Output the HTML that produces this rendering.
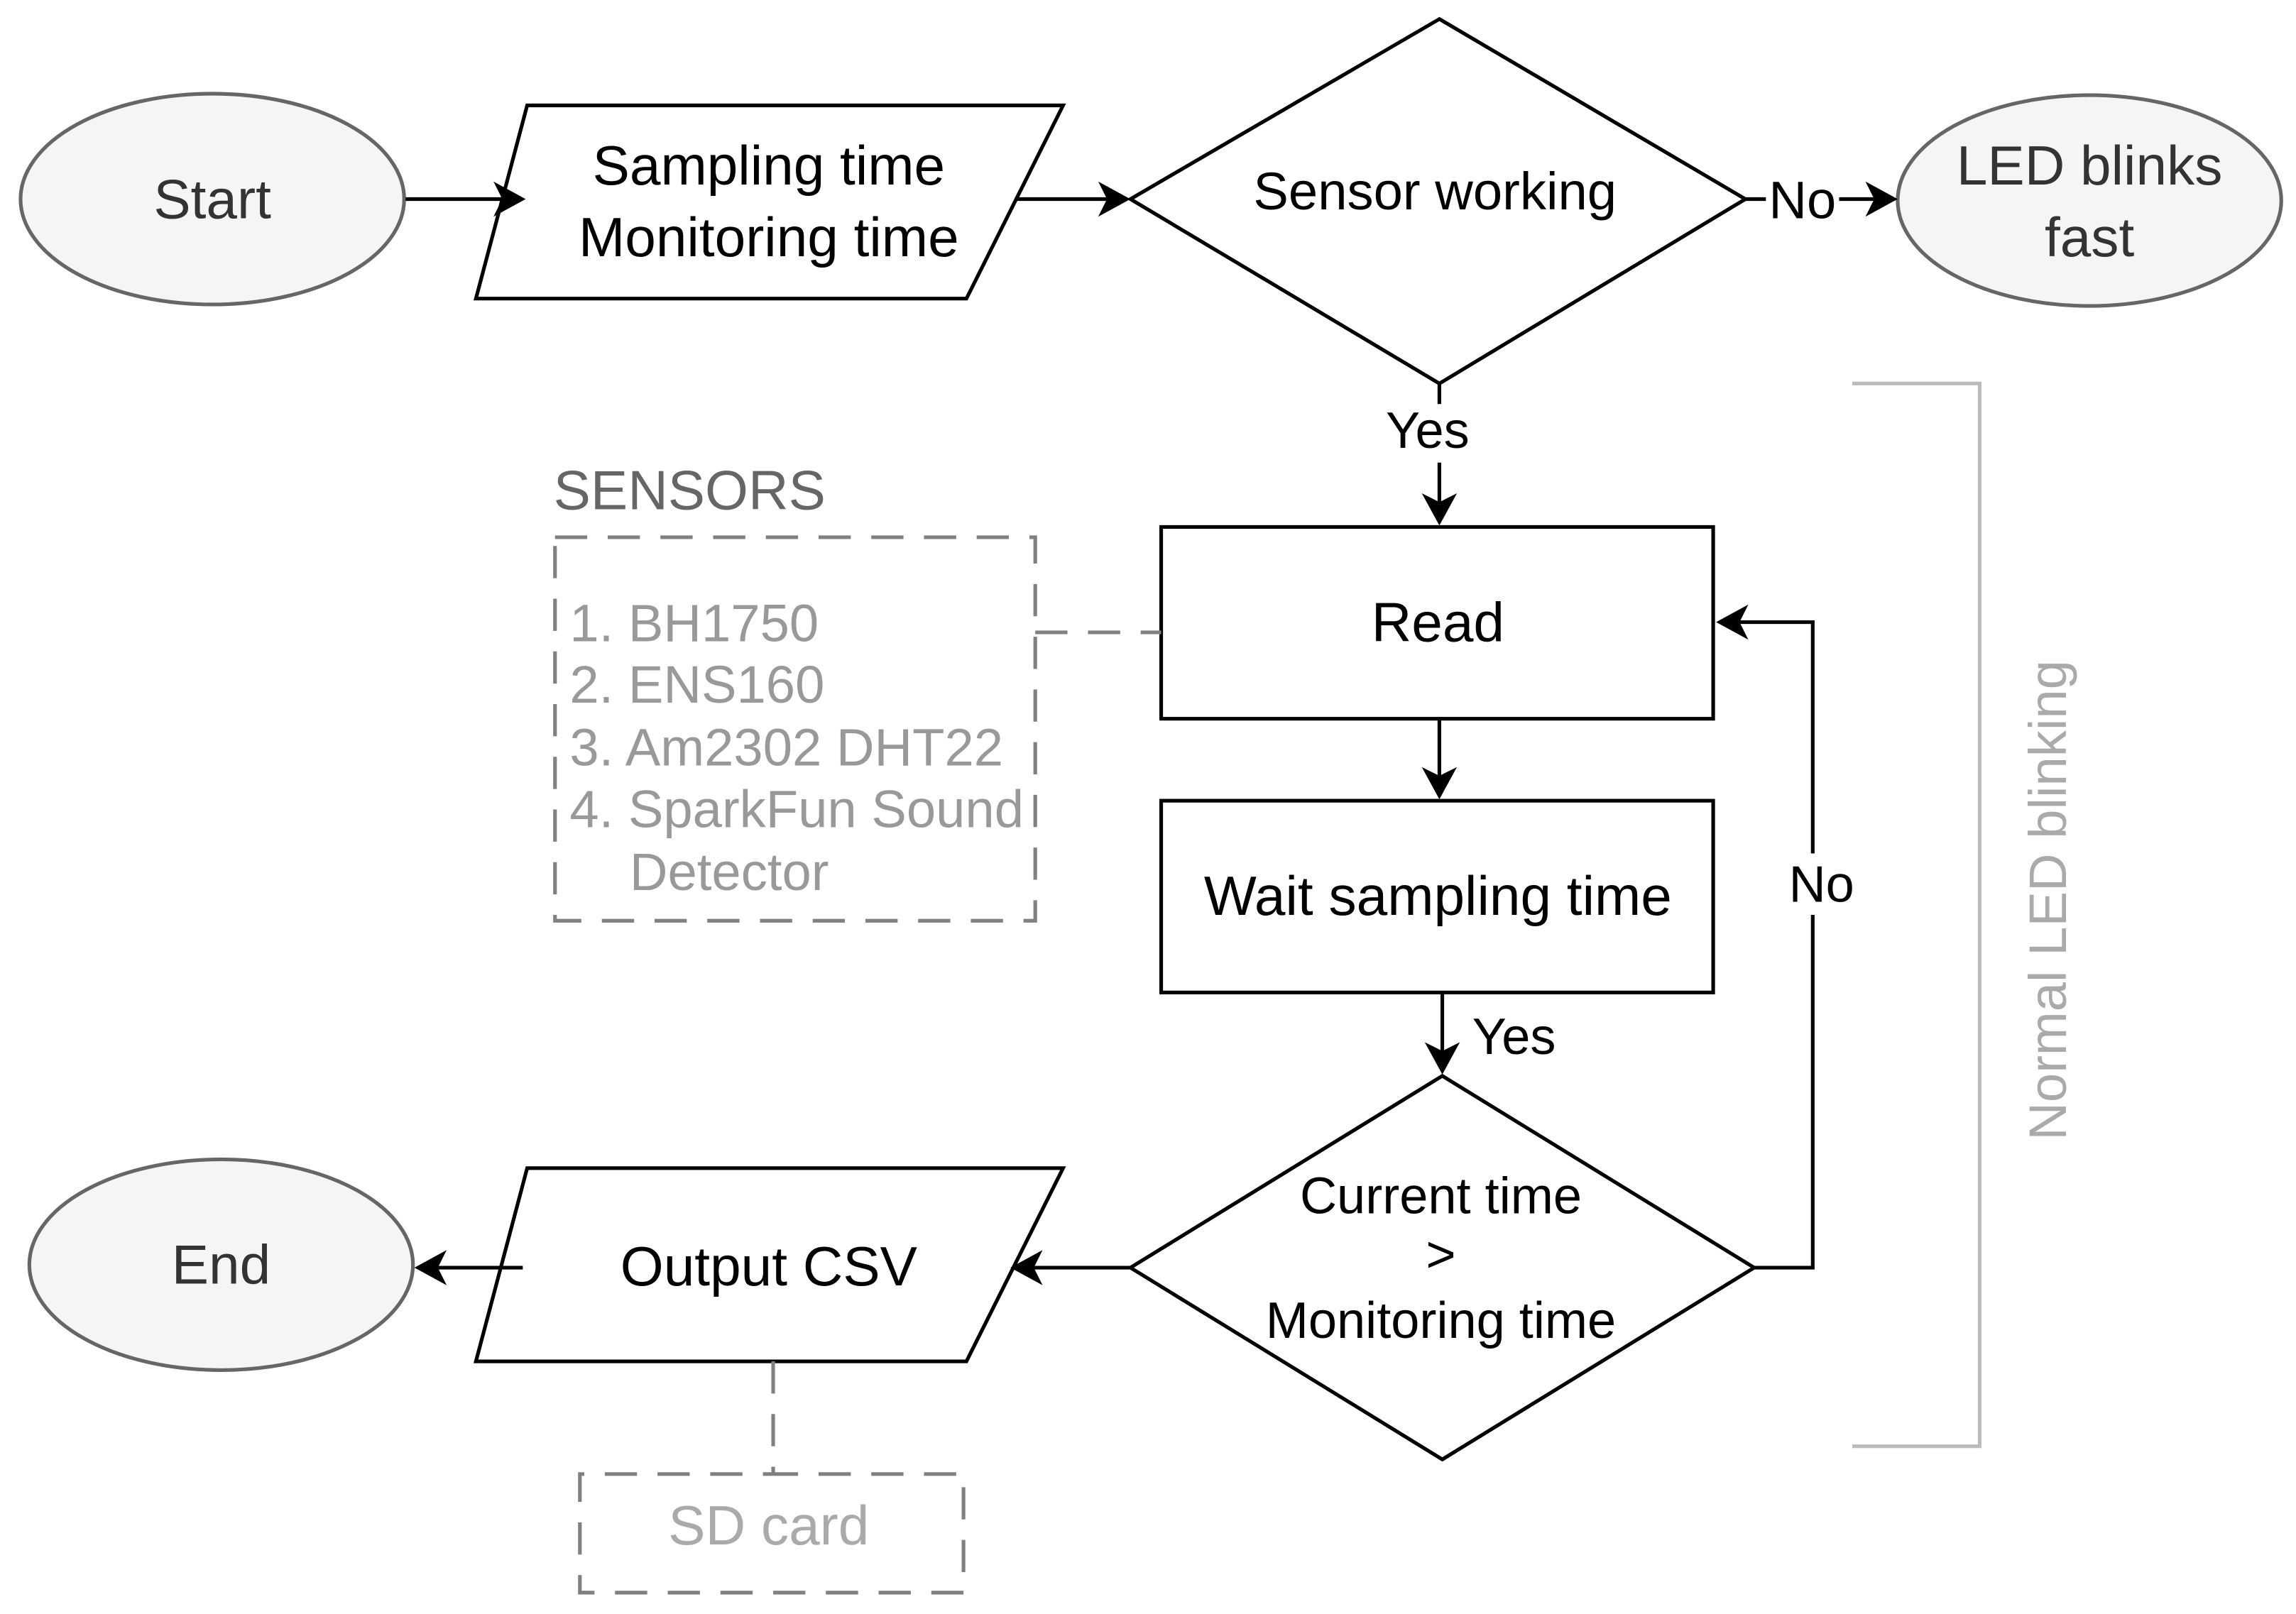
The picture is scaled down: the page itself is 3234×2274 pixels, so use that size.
<!DOCTYPE html>
<html><head><meta charset="utf-8"><style>html,body{margin:0;padding:0;background:#fff}svg{display:block}</style></head>
<body>
<svg width="3234" height="2274" viewBox="0 0 1568 1102.6" xmlns="http://www.w3.org/2000/svg" font-family="'Liberation Sans', Arial, sans-serif">
<rect width="1568" height="1103" fill="#fff"/>
<g fill="none" stroke-width="2.5">
<ellipse cx="145" cy="136" rx="131" ry="72" fill="#f5f5f5" stroke="#666"/>
<ellipse cx="1427" cy="137" rx="131" ry="72" fill="#f5f5f5" stroke="#666"/>
<ellipse cx="151" cy="864" rx="131" ry="72" fill="#f5f5f5" stroke="#666"/>
<polygon points="360,72 726,72 660,204 325,204" fill="#fff" stroke="#000"/>
<polygon points="360,798 726,798 660,930 325,930" fill="#fff" stroke="#000"/>
<polygon points="983,13 1192,136 983,262 772,136" fill="#fff" stroke="#000"/>
<polygon points="985,735 1198,866 985,997 772,866" fill="#fff" stroke="#000"/>
<rect x="793" y="360" width="377" height="131" fill="#fff" stroke="#000"/>
<rect x="793" y="547" width="377" height="131" fill="#fff" stroke="#000"/>
<g stroke="#000">
<line x1="277" y1="136" x2="345" y2="136"/>
<line x1="693" y1="136" x2="758" y2="136"/>
<line x1="1192" y1="136" x2="1206" y2="136"/>
<line x1="1256" y1="136" x2="1282" y2="136"/>
<line x1="983" y1="262" x2="983" y2="276"/>
<line x1="983" y1="316" x2="983" y2="346"/>
<line x1="983" y1="491" x2="983" y2="533"/>
<line x1="985" y1="678" x2="985" y2="721"/>
<polyline points="1198,866 1238,866 1238,625"/>
<polyline points="1238,583 1238,425 1186,425"/>
<line x1="772" y1="866" x2="704" y2="866"/>
<line x1="357" y1="866" x2="297" y2="866"/>
</g>
<g stroke="#808080" stroke-dasharray="22,14">
<rect x="379" y="367" width="328" height="262"/>
<line x1="707" y1="432" x2="793" y2="432"/>
<polyline points="528,930 528,1007 658,1007 658,1088 396,1088 396,1007 528,1007"/>
</g>
<polyline points="1265,262 1352,262 1352,988 1265,988" stroke="#bbb"/>
</g>
<g fill="#000">
<path d="M359,136 L337,124 L343,136 L337,148 Z"/>
<path d="M772,136 L750,124 L756,136 L750,148 Z"/>
<path d="M1296,136 L1274,124 L1280,136 L1274,148 Z"/>
<path d="M983,359 L971,337 L983,343 L995,337 Z"/>
<path d="M983,546 L971,524 L983,530 L995,524 Z"/>
<path d="M985,734 L973,712 L985,718 L997,712 Z"/>
<path d="M1172,425 L1194,413 L1188,425 L1194,437 Z"/>
<path d="M690,866 L712,854 L706,866 L712,878 Z"/>
<path d="M283,866 L305,854 L299,866 L305,878 Z"/>
</g>
<g font-size="38" text-anchor="middle" fill="#000">
<text x="145" y="149" fill="#333">Start</text>
<text x="525" y="126">Sampling time</text>
<text x="525" y="175">Monitoring time</text>
<text x="980" y="143" font-size="36">Sensor working</text>
<text x="1427" y="126" fill="#333">LED blinks</text>
<text x="1427" y="175" fill="#333">fast</text>
<text x="982" y="438">Read</text>
<text x="982" y="625">Wait sampling time</text>
<text x="984" y="829" font-size="35">Current time</text>
<text x="984" y="869" font-size="35">&gt;</text>
<text x="984" y="914" font-size="35">Monitoring time</text>
<text x="525" y="878">Output CSV</text>
<text x="151" y="877" fill="#333">End</text>
<text x="1231" y="149" font-size="36">No</text>
<text x="975" y="306" font-size="35">Yes</text>
<text x="1034" y="720" font-size="35">Yes</text>
<text x="1244" y="616" font-size="35">No</text>
<text x="525" y="1055" fill="#aaa">SD card</text>
</g>
<text x="378" y="348" font-size="38" fill="#666">SENSORS</text>
<g font-size="36" fill="#999">
<text x="389" y="438">1. BH1750</text>
<text x="389" y="480">2. ENS160</text>
<text x="389" y="523">3. Am2302 DHT22</text>
<text x="389" y="565">4. SparkFun Sound</text>
<text x="430" y="608">Detector</text>
</g>
<text transform="translate(1411,615) rotate(-90)" text-anchor="middle" font-size="36" fill="#aaa">Normal LED blinking</text>
</svg>
</body></html>
